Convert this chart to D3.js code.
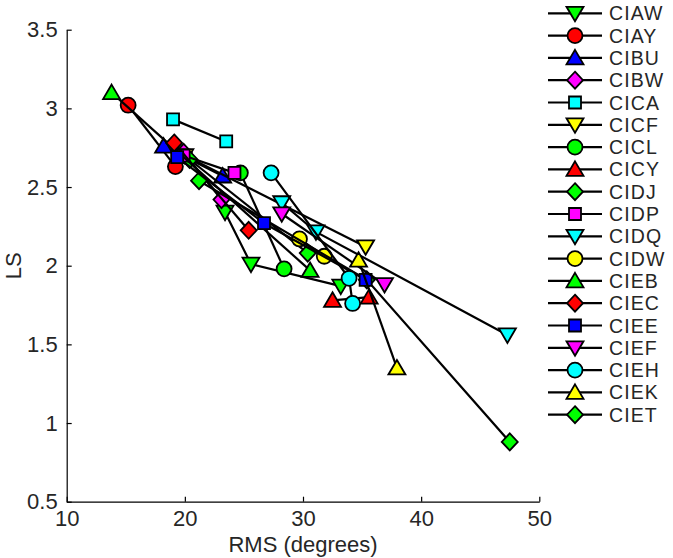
<!DOCTYPE html>
<html><head><meta charset="utf-8">
<script src="https://cdn.jsdelivr.net/npm/d3@7"></script>
<style>body{margin:0;background:#fff}svg{display:block}</style>
</head><body>
<script>
const names = ["CIAW","CIAY","CIBU","CIBW","CICA","CICF","CICL","CICY","CIDJ","CIDP","CIDQ","CIDW","CIEB","CIEC","CIEE","CIEF","CIEH","CIEK","CIET"];
const colors = ["#00ff00","#ff0000","#0000ff","#ff00ff","#00ffff","#ffff00","#00ff00","#ff0000","#00ff00","#ff00ff","#00ffff","#ffff00","#00ff00","#ff0000","#0000ff","#ff00ff","#00ffff","#ffff00","#00ff00"];
const shapes = ["tdown","circle","tup","diamond","square","tdown","circle","tup","diamond","square","tdown","circle","tup","diamond","square","tdown","circle","tup","diamond"];
const rmsData = [
 [23.4,25.6,33.2],
 [15.2,19.2],
 [18.2,23.2],
 [19.9,23.1],
 [19.0,23.5],
 [35.3,20.0],
 [24.7,28.4],
 [32.5,35.6],
 [20.4,30.4],
 [19.9,24.2],
 [28.2,31.1,47.3],
 [29.7,31.8],
 [13.8,30.6],
 [19.1,25.4],
 [19.35,26.7,35.3],
 [28.2,36.9],
 [27.3,33.9,34.2],
 [34.7,37.95],
 [21.2,35.4,47.5]
];
const lsData = [
 [2.34,2.01,1.87],
 [3.02,2.63],
 [2.76,2.57],
 [2.72,2.42],
 [2.93,2.79],
 [2.12,2.70],
 [2.59,1.98],
 [1.78,1.80],
 [2.675,2.08],
 [2.70,2.59],
 [2.40,2.215,1.56],
 [2.17,2.06],
 [3.10,1.97],
 [2.78,2.225],
 [2.69,2.27,1.91],
 [2.33,1.88],
 [2.59,1.92,1.76],
 [2.035,1.35],
 [2.54,1.91,0.88]
];
const xTicks = [10,20,30,40,50];
const yTicks = [0.5,1,1.5,2,2.5,3,3.5];
const drawOrder = [0,1,2,3,4,5,6,7,8,9,10,11,12,13,18,14,15,16,17];

const W = 673, H = 558;
const svg = d3.select("body").append("svg").attr("width", W).attr("height", H);
const x = d3.scaleLinear().domain([10,50]).range([66.7,539.3]);
const y = d3.scaleLinear().domain([0.5,3.5]).range([501.7,29.7]);
const font = "'Liberation Sans', Arial, sans-serif";
const txt = "#262626";
const fs = 22;

function markerPath(shape){
  switch(shape){
    case "circle": return d3.symbol(d3.symbolCircle, Math.PI*7.5*7.5)();
    case "square": return "M-6,-6H6V6H-6Z";
    case "diamond": return "M0,-8.5L8,0L0,8.5L-8,0Z";
    case "tup": return "M0,-8L8.5,6.5L-8.5,6.5Z";
    case "tdown": return "M0,8L8.5,-6.5L-8.5,-6.5Z";
  }
}

const gx = svg.append("g").attr("transform", `translate(0,${y(0.5)})`)
  .call(d3.axisBottom(x).tickValues(xTicks).tickSizeInner(-5).tickSizeOuter(0).tickPadding(9).tickFormat(d3.format("d")));
const gy = svg.append("g").attr("transform", `translate(${x(10)},0)`)
  .call(d3.axisLeft(y).tickValues(yTicks).tickSizeInner(-5).tickSizeOuter(0).tickPadding(9).tickFormat(d => String(d)));
[gx, gy].forEach(g => {
  g.selectAll("path.domain").attr("stroke","#000").attr("stroke-width",1.2);
  g.selectAll(".tick line").attr("stroke","#000").attr("stroke-width",1.2);
  g.selectAll("text").attr("font-family", font).attr("font-size", fs).attr("fill", txt);
});

svg.append("text").attr("x", (x(10)+x(50))/2).attr("y", 552).attr("text-anchor","middle")
  .attr("font-family", font).attr("font-size", fs).attr("fill", txt).text("RMS (degrees)");
svg.append("text").attr("transform", `translate(21,${(y(0.5)+y(3.5))/2}) rotate(-90)`).attr("text-anchor","middle")
  .attr("font-family", font).attr("font-size", fs).attr("fill", txt).text("LS");

const line = d3.line().x(d => x(d[0])).y(d => y(d[1]));
drawOrder.forEach(i => {
  const pts = rmsData[i].map((v, j) => [v, lsData[i][j]]);
  const g = svg.append("g");
  g.append("path").attr("d", line(pts)).attr("fill","none").attr("stroke","#000").attr("stroke-width",2.2);
  g.selectAll("path.m").data(pts).join("path").attr("class","m")
    .attr("transform", d => `translate(${x(d[0])},${y(d[1])})`)
    .attr("d", markerPath(shapes[i])).attr("fill", colors[i]).attr("stroke","#000").attr("stroke-width",1.8);
});

const lg = svg.append("g");
names.forEach((n, i) => {
  const cy = 13.3 + i*22.3;
  lg.append("line").attr("x1",548).attr("x2",602).attr("y1",cy).attr("y2",cy).attr("stroke","#000").attr("stroke-width",2.2);
  lg.append("path").attr("transform",`translate(575,${cy})`).attr("d", markerPath(shapes[i])).attr("fill",colors[i]).attr("stroke","#000").attr("stroke-width",1.8);
  lg.append("text").attr("x",609).attr("y",cy).attr("dy","0.36em").attr("font-family",font).attr("font-size",19.5)
    .attr("letter-spacing",1.1).attr("fill",txt).text(n);
});
</script>
</body></html>
